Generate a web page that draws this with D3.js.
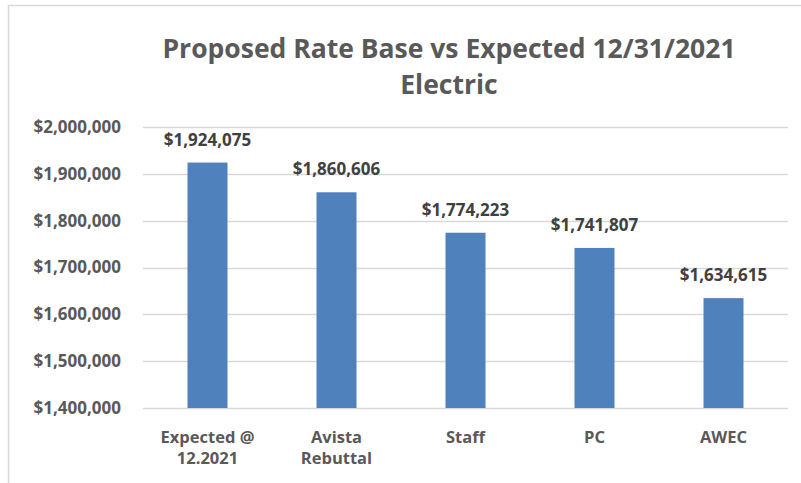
<!DOCTYPE html>
<html>
<head>
<meta charset="utf-8">
<script src="https://cdn.jsdelivr.net/npm/d3@7"></script>
<style>
  body { margin: 0; background: #fff; }
  #chart { width: 801px; height: 483px; }
</style>
</head>
<body>
<div id="chart"></div>
<script>
// values
const categories = [["Expected @", "12.2021"], ["Avista", "Rebuttal"], ["Staff"], ["PC"], ["AWEC"]];
const values = [1924075, 1860606, 1774223, 1741807, 1634615];
const yTicks = [1400000, 1500000, 1600000, 1700000, 1800000, 1900000, 2000000];
const titleLines = ["Proposed Rate Base vs Expected 12/31/2021", "Electric"];

const width = 801, height = 483;
const margin = { top: 127, right: 13, bottom: 75, left: 143 };
const font = "'Open Sans', sans-serif";

const svg = d3.select("#chart").append("svg")
  .attr("width", width)
  .attr("height", height);

// chart frame
svg.append("rect")
  .attr("x", 8.5).attr("y", 5.5)
  .attr("width", 820).attr("height", 500)
  .attr("fill", "#fff")
  .attr("stroke", "#d9d9d9")
  .attr("stroke-width", 1.5);

const x = d3.scaleBand()
  .domain(d3.range(values.length))
  .range([margin.left, width - margin.right])
  .paddingInner(0.69)
  .paddingOuter(0.345);

const y = d3.scaleLinear()
  .domain([1400000, 2000000])
  .range([height - margin.bottom, margin.top]);

const money = v => "$" + d3.format(",")(v);

// title
svg.append("text")
  .attr("text-anchor", "middle")
  .attr("font-family", font)
  .attr("font-size", "26.5px")
  .attr("font-weight", 700)
  .attr("fill", "#595959")
  .selectAll("tspan")
  .data(titleLines)
  .join("tspan")
  .attr("x", 449)
  .attr("y", (d, i) => 58 + i * 36)
  .text(d => d);

// grid lines
svg.append("g")
  .selectAll("line")
  .data(yTicks)
  .join("line")
  .attr("x1", margin.left)
  .attr("x2", width - margin.right)
  .attr("y1", d => Math.round(y(d)) + 0.5)
  .attr("y2", d => Math.round(y(d)) + 0.5)
  .attr("stroke", "#d9d9d9")
  .attr("stroke-width", 1.5);

// y axis labels
const yAxis = svg.append("g")
  .attr("transform", `translate(${margin.left - 22},0)`)
  .call(d3.axisLeft(y).tickValues(yTicks).tickFormat(money).tickSize(0).tickPadding(0));
yAxis.select(".domain").remove();
yAxis.selectAll("text")
  .attr("font-family", font)
  .attr("font-size", "17px")
  .attr("font-weight", 700)
  .attr("fill", "#595959");

// bars
svg.append("g")
  .selectAll("rect")
  .data(values)
  .join("rect")
  .attr("x", (d, i) => x(i))
  .attr("y", d => y(d))
  .attr("width", x.bandwidth())
  .attr("height", d => y(1400000) - y(d))
  .attr("fill", "#4f81bd");

// value labels
svg.append("g")
  .selectAll("text")
  .data(values)
  .join("text")
  .attr("x", (d, i) => x(i) + x.bandwidth() / 2)
  .attr("y", d => y(d) - 17)
  .attr("text-anchor", "middle")
  .attr("font-family", font)
  .attr("font-size", "17px")
  .attr("font-weight", 700)
  .attr("fill", "#404040")
  .text(d => money(d));

// category labels, one text per line
svg.append("g")
  .selectAll("g")
  .data(categories)
  .join("g")
  .each(function (d, i) {
    d3.select(this).selectAll("text")
      .data(d)
      .join("text")
      .attr("x", x(i) + x.bandwidth() / 2)
      .attr("y", (t, j) => 443 + j * 21)
      .attr("text-anchor", "middle")
      .attr("font-family", font)
      .attr("font-size", "16.5px")
      .attr("font-weight", 700)
      .attr("fill", "#595959")
      .text(t => t);
  });
</script>
</body>
</html>
